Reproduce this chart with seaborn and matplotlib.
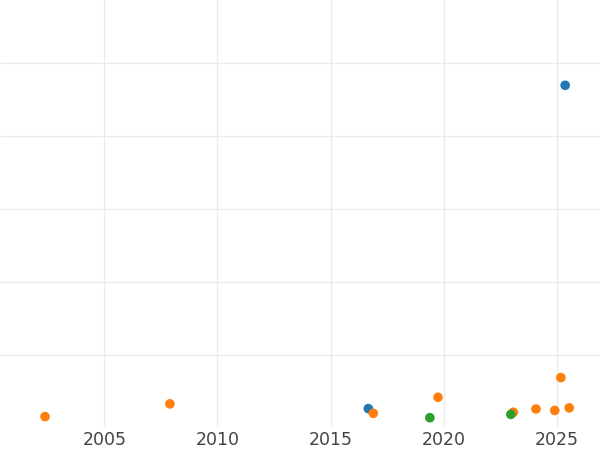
import numpy as np
import pandas as pd
import matplotlib
matplotlib.use("Agg")
import matplotlib.pyplot as plt
import seaborn as sns

# values (x = year, y = value)
blue_x = [2016.67, 2025.37]
blue_y = [5.3, 94.0]
orange_x = [2002.38, 2007.90, 2016.89, 2019.75, 2023.08, 2024.08, 2024.91, 2025.18, 2025.55]
orange_y = [3.1, 6.6, 4.0, 8.4, 4.3, 5.2, 4.8, 13.8, 5.5]
green_x = [2019.39, 2022.97]
green_y = [2.8, 3.7]
groups = ["A", "B", "C"]
year_ticks = [2005, 2010, 2015, 2020, 2025]

df = pd.concat([
    pd.DataFrame({"year": blue_x, "value": blue_y, "group": groups[0]}),
    pd.DataFrame({"year": orange_x, "value": orange_y, "group": groups[1]}),
    pd.DataFrame({"year": green_x, "value": green_y, "group": groups[2]}),
], ignore_index=True)

sns.set_style("whitegrid", {"grid.color": "#ebebeb"})
fig = plt.figure(figsize=(6, 4.5), dpi=100)
ax = fig.add_axes([0, 23 / 450, 1, 427 / 450])

sns.scatterplot(data=df, x="year", y="value", hue="group", hue_order=groups,
                palette=["#1f77b4", "#ff7f0e", "#2ca02c"], s=48,
                edgecolor="none", legend=False, ax=ax)

ax.set_xlim(2000.39, 2026.91)
ax.set_ylim(0.25, 117.4)
ax.set_xticks(year_ticks)
ax.set_yticks([20, 40, 60, 80, 100])
ax.set_yticklabels([])
ax.tick_params(axis="x", labelsize=12.5, labelcolor="#444444", length=0, pad=3)
ax.tick_params(axis="y", length=0)
ax.grid(True, linewidth=1.0)
ax.set_xlabel("")
ax.set_ylabel("")
for s in ax.spines.values():
    s.set_visible(False)

fig.savefig("out.png", dpi=100)
